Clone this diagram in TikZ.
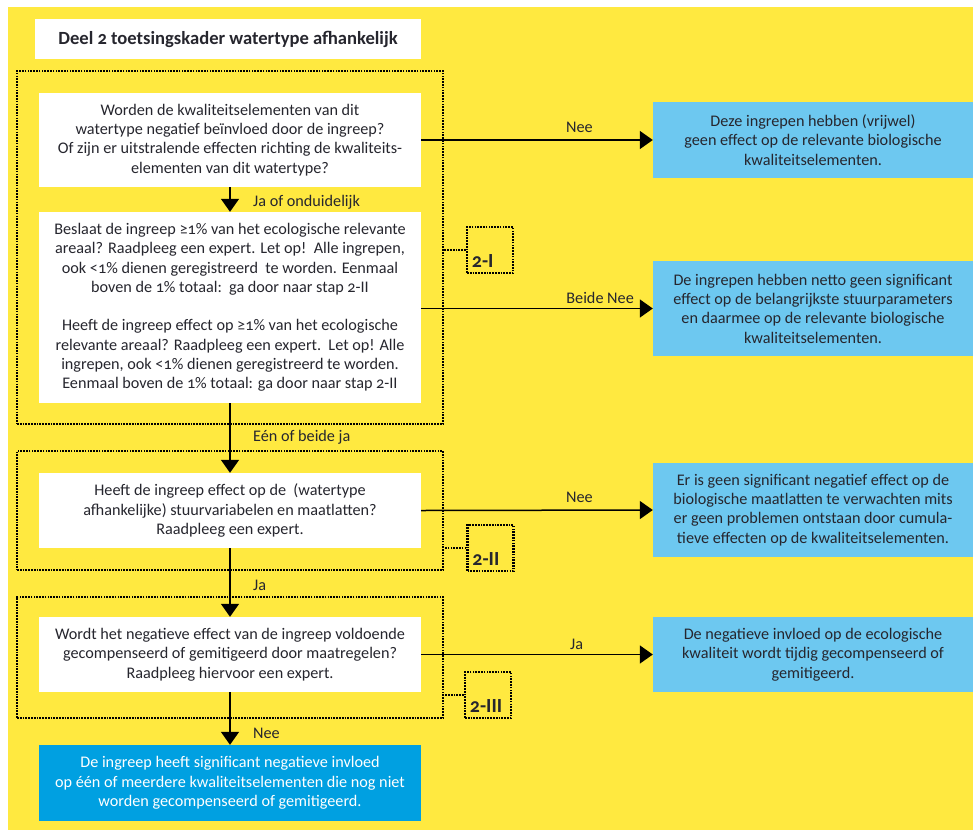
\documentclass[tikz,border=0pt]{standalone}
\usepackage{fontspec}
\setmainfont{Carlito}[Numbers=OldStyle]
\usetikzlibrary{arrows.meta}
\definecolor{ybg}{HTML}{FFE940}
\definecolor{lblue}{HTML}{6DC8F0}
\definecolor{dblue}{HTML}{00A0E1}
\definecolor{txt}{HTML}{26262E}
\tikzset{
  body/.style={font=\fontsize{16.2pt}{19.3pt}\selectfont, text=txt, align=center, inner sep=0pt},
  wbox/.style={body, fill=white, minimum width=382pt},
  bbox/.style={body, fill=lblue, minimum width=320pt},
  fbox/.style={body, fill=dblue, text=white, minimum width=382pt},
  frame/.style={draw=black, line width=2.5pt, dash pattern=on 1.7pt off 1.1pt, minimum width=426pt, inner sep=0pt},
  tagbox/.style={draw=black, line width=2.5pt, dash pattern=on 1.7pt off 1.1pt, minimum width=46pt, minimum height=46pt, inner sep=0pt},
  dotline/.style={draw=black, line width=2.2pt, dash pattern=on 1.7pt off 1.1pt},
  tagtxt/.style={font=\fontsize{20pt}{22pt}\selectfont\bfseries, text=txt, inner sep=0pt},
  lbl/.style={font=\fontsize{16.2pt}{18pt}\selectfont, text=txt, inner sep=0pt},
  arr/.style={draw=black, line width=1.5pt, -{Triangle[length=13pt,width=18pt]}},
}
\begin{document}
\begin{tikzpicture}[x=1pt,y=-1pt]
\useasboundingbox (0,0) rectangle (973,830);
\fill[white] (0,0) rectangle (973,830);
\fill[ybg] (8,7) rectangle (973,830);

% title
\node[body, fill=white, minimum width=386pt, minimum height=40pt, font=\fontsize{18.6pt}{20pt}\selectfont\bfseries] (title) at (228,39) {Deel 2 toetsingskader watertype afhankelijk};

% frames
\node[frame, minimum height=353pt] (f1) at (230,247.5) {};
\node[frame, minimum height=119pt] (f2) at (230,510.5) {};
\node[frame, minimum height=121pt] (f3) at (230,657.5) {};

% white boxes
\node[wbox, minimum height=94pt] (b1) at (230,140) {Worden de kwaliteitselementen van dit\\watertype negatief beïnvloed door de ingreep?\\Of zijn er uitstralende effecten richting de kwaliteits-\\elementen van dit watertype?};
\node[wbox, minimum height=191pt] (b2) at (230,307.5) {Beslaat de ingreep ≥1\% van het ecologische relevante\\areaal? Raadpleeg een expert. Let op!\ \ Alle ingrepen,\\ook <1\% dienen geregistreerd\ \ te worden. Eenmaal\\boven de 1\% totaal:\ \ ga door naar stap 2-II\\[19pt]Heeft de ingreep effect op ≥1\% van het ecologische\\relevante areaal? Raadpleeg een expert.\ \ Let op! Alle\\ingrepen, ook <1\% dienen geregistreerd te worden.\\Eenmaal boven de 1\% totaal: ga door naar stap 2-II};
\node[wbox, minimum height=75pt] (b3) at (230,510.5) {Heeft de ingreep effect op de\ \ (watertype\\afhankelijke) stuurvariabelen en maatlatten?\\Raadpleeg een expert.};
\node[wbox, minimum height=75pt] (b4) at (230,654.5) {Wordt het negatieve effect van de ingreep voldoende\\gecompenseerd of gemitigeerd door maatregelen?\\Raadpleeg hiervoor een expert.};
\node[fbox, minimum height=76pt] (fin) at (230,783) {De ingreep heeft significant negatieve invloed\\op één of meerdere kwaliteitselementen die nog niet\\worden gecompenseerd of gemitigeerd.};

% blue boxes
\node[bbox, minimum height=76pt] (c1) at (813,140) {Deze ingrepen hebben (vrijwel)\\geen effect op de relevante biologische\\kwaliteitselementen.};
\node[bbox, minimum height=95pt] (c2) at (813,308.5) {De ingrepen hebben netto geen significant\\effect op de belangrijkste stuurparameters\\en daarmee op de relevante biologische\\kwaliteitselementen.};
\node[bbox, minimum height=94pt] (c3) at (813,510) {Er is geen significant negatief effect op de\\biologische maatlatten te verwachten mits\\er geen problemen ontstaan door cumula-\\tieve effecten op de kwaliteitselementen.};
\node[bbox, minimum height=75pt] (c4) at (813,654.5) {De negatieve invloed op de ecologische\\kwaliteit wordt tijdig gecompenseerd of\\gemitigeerd.};

% tags
\node[tagbox] (t1) at (490,250) {};
\node[tagbox] (t2) at (490.5,548) {};
\node[tagbox] (t3) at (488,695) {};
\node[tagtxt, anchor=base west] (t1l) at ([xshift=6pt,yshift=7pt]t1.south west) {2-I};
\node[tagtxt, anchor=base west] (t2l) at ([xshift=6pt,yshift=7pt]t2.south west) {2-II};
\node[tagtxt, anchor=base west] (t3l) at ([xshift=6pt,yshift=7pt]t3.south west) {2-III};
\draw[dotline] (t1.west) -- (t1.west -| f1.east);
\draw[dotline] (t2.west) -- (t2.west -| f2.east);
\draw[dotline] (t3.west) -- (t3.west -| f3.east);

% vertical arrows
\draw[arr] (b1.south) -- (b2.north);
\draw[arr] (b2.south) -- (b3.north);
\draw[arr] (b3.south) -- (b4.north);
\draw[arr] (b4.south) -- (fin.north);

% horizontal arrows
\draw[arr] (b1.east) -- (c1.west);
\draw[arr] (b2.east |- c2.west) -- (c2.west);
\draw[arr] (b3.east) -- (c3.west);
\draw[arr] (b4.east) -- (c4.west);

% labels
\node[lbl, anchor=west] (l1) at (253,202) {Ja of onduidelijk};
\node[lbl, anchor=west] (l2) at (253,437) {Eén of beide ja};
\node[lbl, anchor=west] (l3) at (253,585) {Ja};
\node[lbl, anchor=west] (l4) at (253,733) {Nee};
\node[lbl, anchor=west] (l5) at (566,127) {Nee};
\node[lbl, anchor=east] (l6) at (634,298) {Beide Nee};
\node[lbl, anchor=west] (l7) at (566,497) {Nee};
\node[lbl, anchor=west] (l8) at (570,644) {Ja};
\end{tikzpicture}
\end{document}
